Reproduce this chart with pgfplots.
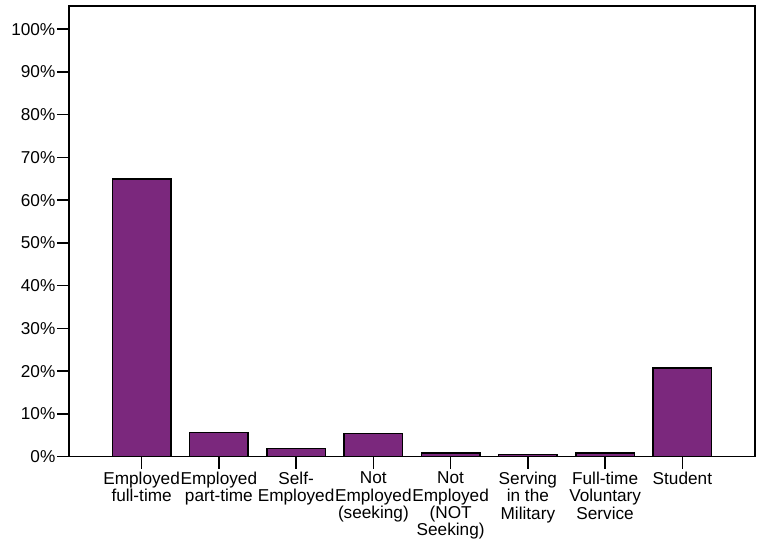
\documentclass[border=0pt]{standalone}
\usepackage{pgfplots}
\pgfplotsset{compat=1.18}
\usepackage{fontspec}
\setmainfont{Liberation Sans}
\definecolor{barpurple}{RGB}{123,40,125}
\begin{document}
\fontsize{17.2bp}{17.5bp}\selectfont
\begin{tikzpicture}
\useasboundingbox (-69bp,-85.3bp) rectangle (696bp,456.7bp);
\begin{axis}[
  at={(0,0)}, anchor=south west,
  scale only axis,
  width=686bp, height=450.7bp,
  xmin=-0.94, xmax=7.94,
  ymin=0, ymax=105.4,
  axis line style={line width=1.5bp},
  every tick/.style={black, line width=1.5bp},
  major tick length=12bp,
  tick align=outside,
  xtick pos=bottom, ytick pos=left,
  xtick={0,1,2,3,4,5,6,7},
  xticklabels={Employed\\full-time, Employed\\part-time, Self-\\Employed, Not\\Employed\\(seeking), Not\\Employed\\(NOT\\Seeking), Serving\\in the\\Military, Full-time\\Voluntary\\Service, Student},
  xticklabel style={align=center, anchor=north, inner sep=1bp, yshift=-2bp, font=\fontsize{17.2bp}{17.4bp}\selectfont},
  ytick={0,10,20,30,40,50,60,70,80,90,100},
  yticklabels={0\%,10\%,20\%,30\%,40\%,50\%,60\%,70\%,80\%,90\%,100\%},
  yticklabel style={anchor=east, inner sep=1.5bp, font=\fontsize{17.2bp}{17.5bp}\selectfont},
  ybar, bar width=0.756,
]
\addplot[fill=barpurple, draw=black, line width=1.5bp] coordinates {
  (0,64.9) (1,5.7) (2,1.9) (3,5.4) (4,0.9) (5,0.5) (6,0.9) (7,20.75)
};
\end{axis}
\end{tikzpicture}
\end{document}
